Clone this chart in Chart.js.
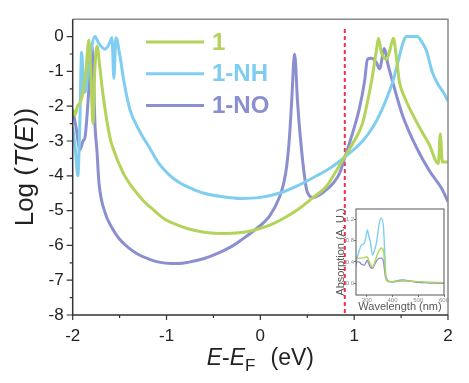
<!DOCTYPE html>
<html>
<head>
<meta charset="utf-8">
<script src="https://cdn.jsdelivr.net/npm/chart.js@4/dist/chart.umd.min.js"></script>
<style>
html, body { margin: 0; padding: 0; background: #fff; }
#wrap { position: relative; width: 469px; height: 383px; }
#main { position: absolute; left: 0; top: 0; }
#inset { position: absolute; left: 320px; top: 200px; }
</style>
</head>
<body>
<div id="wrap">
	<canvas id="main" width="469" height="383"></canvas>
	<canvas id="inset" width="130" height="116"></canvas>
</div>
<script>
// transmission, Log(T(E)) vs E-EF (eV)
var seriesNames = ["1", "1-NH", "1-NO"];

var e1 = [-2.0, -1.975, -1.95, -1.92, -1.89, -1.86, -1.827, -1.805, -1.784, -1.765, -1.741, -1.71, -1.678, -1.603, -1.571, -1.465,
	-1.36, -1.252, -1.13, -1.018, -0.88, -0.763, -0.6, -0.4, -0.2, -0.05, 0.1, 0.25, 0.4, 0.55, 0.705, 0.8, 0.897, 1.0, 1.088,
	1.14, 1.184, 1.237, 1.259, 1.29, 1.344, 1.38, 1.418, 1.45, 1.482, 1.53, 1.588, 1.694, 1.80, 1.897, 1.918, 1.94, 2.0];
var t1 = [-2.1, -2.25, -2.0, -1.9, -1.6, -1.0, -0.1, -1.2, -2.5, -1.0, -0.28, -0.9, -1.65, -2.9, -3.2, -3.9,
	-4.35, -4.7, -5.0, -5.25, -5.42, -5.53, -5.62, -5.66, -5.63, -5.55, -5.42, -5.22, -4.97, -4.65, -4.3, -3.9, -3.46, -3.0, -2.5,
	-1.9, -1.3, -0.4, -0.05, -0.45, -0.65, -0.4, -0.05, -0.6, -1.3, -1.7, -2.05, -2.6, -3.1, -3.65, -2.8, -3.6, -3.6];

var eNH = [-2.0, -1.97, -1.945, -1.925, -1.905, -1.885, -1.869, -1.826, -1.763, -1.72, -1.656, -1.61, -1.582, -1.561, -1.539,
	-1.50, -1.45, -1.39, -1.29, -1.18, -1.08, -0.96, -0.86, -0.72, -0.6, -0.4, -0.2, 0.0, 0.2, 0.4, 0.6, 0.75, 0.9, 1.09,
	1.2, 1.27, 1.35, 1.41, 1.46, 1.50, 1.53, 1.556, 1.673, 1.72, 1.77, 1.83, 1.9, 1.95, 2.0];
var tNH = [-2.6, -3.3, -4.0, -2.6, -0.45, -1.4, -1.6, -0.8, 0, -0.2, -0.36, -0.2, -0.03, -1.2, -0.03,
	-0.5, -1.35, -2.1, -2.7, -3.2, -3.65, -4.0, -4.2, -4.38, -4.5, -4.6, -4.65, -4.62, -4.5, -4.28, -4.0, -3.77, -3.46, -3.0,
	-2.6, -2.25, -1.75, -1.3, -0.8, -0.37, -0.1, 0, 0, -0.15, -0.4, -1.0, -1.4, -1.6, -1.85];

var eNO = [-2.0, -1.965, -1.922, -1.89, -1.869, -1.848, -1.82, -1.795, -1.773, -1.763, -1.741, -1.72, -1.656, -1.58, -1.507,
	-1.4, -1.295, -1.18, -1.082, -0.95, -0.87, -0.76, -0.657, -0.54, -0.433, -0.3, -0.19, -0.08, 0.04, 0.1, 0.206, 0.25, 0.28,
	0.31, 0.333, 0.365, 0.397, 0.42, 0.44, 0.47, 0.493, 0.525, 0.557, 0.631, 0.705, 0.78, 0.844, 0.897, 0.98, 1.057, 1.11,
	1.142, 1.184, 1.237, 1.27, 1.322, 1.36, 1.41, 1.514, 1.663, 1.80, 1.94, 2.0];
var tNO = [-2.1, -2.6, -3.25, -3.0, -2.9, -2.3, -1.2, -0.3, -1.6, -2.5, -3.3, -4.2, -5.05, -5.5, -5.8,
	-6.08, -6.27, -6.4, -6.48, -6.52, -6.52, -6.48, -6.42, -6.32, -6.2, -6.02, -5.82, -5.6, -5.33, -5.15, -4.6, -4.2, -3.74,
	-2.9, -1.9, -0.5, -1.9, -2.7, -3.28, -4.0, -4.4, -4.58, -4.63, -4.55, -4.4, -4.2, -3.93, -3.5, -2.8, -2.05, -1.3,
	-0.65, -0.62, -0.75, -0.93, -0.34, -0.8, -1.3, -2.25, -3.18, -3.85, -4.4, -4.75];

// red dashed marker
var markE = [0.9, 0.9];
var markT = [0.22, -8];

// inset: absorption vs wavelength (nm)
var wave = [256, 262, 270, 278, 290, 296, 302, 308, 314, 322, 330, 338, 349, 357, 365, 370, 373, 377, 381, 390, 397, 420, 440, 469, 500, 540, 600];
var absNH = [0.3, 0.47, 0.6, 0.71, 0.75, 0.85, 1.0, 0.88, 0.77, 0.53, 0.62, 0.77, 1.13, 1.22, 1.03, 0.55, 0.2, 0.1, 0.06, 0.03, 0.02, 0.03, 0.04, 0.04, 0.02, 0.01, 0.0];
var abs1 = [0.49, 0.48, 0.47, 0.47, 0.48, 0.49, 0.49, 0.42, 0.36, 0.3, 0.38, 0.5, 0.62, 0.66, 0.6, 0.35, 0.15, 0.08, 0.04, 0.03, 0.03, 0.04, 0.05, 0.04, 0.03, 0.02, 0.01];
var absNO = [0.34, 0.4, 0.4, 0.36, 0.34, 0.38, 0.43, 0.36, 0.3, 0.28, 0.35, 0.42, 0.47, 0.47, 0.4, 0.2, 0.11, 0.06, 0.04, 0.03, 0.03, 0.05, 0.06, 0.04, 0.02, 0.01, 0.0];

var green = "#b3d35a", blue = "#7fcdf0", purple = "#8b8fd0", red = "#ef2f4f";
var fam = '"Liberation Sans", Arial, sans-serif';
Chart.defaults.font.family = fam;

function pts(xs, ys) {
	return xs.map(function(v, i) { return { x: v, y: ys[i] }; });
}

function curve(label, xs, ys, color, width) {
	return {
		label: label, data: pts(xs, ys), borderColor: color, borderWidth: width,
		pointRadius: 0, fill: false, cubicInterpolationMode: "monotone"
	};
}

function isStep(v, step) {
	var k = v / step;
	return Math.abs(k - Math.round(k)) < 1e-6;
}

// draws text made of pieces with different fonts, centred on 0
function richText(ctx, parts, size) {
	var total = 0;
	parts.forEach(function(p) {
		ctx.font = (p.style || "") + (p.size || size) + "px " + fam;
		p.w = ctx.measureText(p.t).width;
		total += p.w + (p.gap || 0);
	});
	var x = -total / 2;
	parts.forEach(function(p) {
		x += p.gap || 0;
		ctx.font = (p.style || "") + (p.size || size) + "px " + fam;
		ctx.fillText(p.t, x, p.dy || 0);
		x += p.w;
	});
}

var mainDeco = {
	id: "mainDeco",
	afterDraw: function(chart) {
		var ctx = chart.ctx, a = chart.chartArea, xs = chart.scales.x, ys = chart.scales.y;
		ctx.save();
		ctx.lineWidth = 1.5;
		ctx.strokeStyle = "#8a8a8a";
		ctx.beginPath();
		ctx.moveTo(a.left, a.top); ctx.lineTo(a.right, a.top); ctx.lineTo(a.right, a.bottom);
		ctx.stroke();
		ctx.strokeStyle = "#333";
		ctx.beginPath();
		ctx.moveTo(a.left, a.top); ctx.lineTo(a.left, a.bottom); ctx.lineTo(a.right, a.bottom);
		ctx.stroke();

		ctx.lineWidth = 1.2;
		ctx.beginPath();
		for (var v = -8; v <= 0; v += 0.5) {
			var py = ys.getPixelForValue(v), len = v % 1 === 0 ? 6 : 3;
			ctx.moveTo(a.left - len, py); ctx.lineTo(a.left, py);
		}
		for (var u = -2; u <= 2; u += 0.5) {
			var px = xs.getPixelForValue(u), l2 = u % 1 === 0 ? 5 : 3;
			ctx.moveTo(px, a.bottom); ctx.lineTo(px, a.bottom + l2);
		}
		ctx.stroke();

		// legend
		chart.data.datasets.slice(0, 3).forEach(function(ds, i) {
			var y = 42 + i * 31.7;
			ctx.strokeStyle = ds.borderColor;
			ctx.lineWidth = 3;
			ctx.beginPath(); ctx.moveTo(146, y); ctx.lineTo(204, y); ctx.stroke();
			ctx.fillStyle = ds.borderColor;
			ctx.font = "bold 24px " + fam;
			ctx.textBaseline = "middle";
			ctx.textAlign = "left";
			ctx.fillText(ds.label, 212, y + 1);
		});

		// axis titles
		ctx.fillStyle = "#222";
		ctx.textAlign = "left";
		ctx.textBaseline = "alphabetic";
		ctx.save();
		ctx.translate(33, (a.top + a.bottom) / 2);
		ctx.rotate(-Math.PI / 2);
		richText(ctx, [{ t: "Log (" }, { t: "T", style: "italic " }, { t: "(" }, { t: "E", style: "italic " }, { t: "))" }], 26);
		ctx.restore();
		ctx.save();
		ctx.translate((a.left + a.right) / 2, 365);
		richText(ctx, [{ t: "E", style: "italic " }, { t: "-" }, { t: "E", style: "italic " },
			{ t: "F", size: 17, dy: 6 }, { t: "(eV)", gap: 15 }], 23);
		ctx.restore();
		ctx.restore();
	}
};

var mainChart = new Chart(document.getElementById("main"), {
	type: "line",
	data: {
		datasets: [
			curve(seriesNames[0], e1, t1, green, 3),
			curve(seriesNames[1], eNH, tNH, blue, 3),
			curve(seriesNames[2], eNO, tNO, purple, 3),
			{ label: "EF", data: pts(markE, markT), borderColor: red, borderWidth: 2, borderDash: [4, 3], pointRadius: 0, tension: 0 }
		]
	},
	options: {
		responsive: false,
		animation: false,
		layout: { padding: { top: 12, right: 21, left: 0, bottom: 0 } },
		plugins: { legend: { display: false }, tooltip: { enabled: false } },
		scales: {
			x: {
				type: "linear", min: -2, max: 2,
				grid: { display: false, drawTicks: false },
				border: { display: false },
				ticks: { stepSize: 1, includeBounds: false, padding: 11, maxRotation: 0, color: "#222", font: { size: 17 } },
				afterFit: function(s) { s.height = 68; }
			},
			y: {
				type: "linear", min: -8, max: 0.5,
				grid: { display: false, drawTicks: false },
				border: { display: false },
				ticks: { stepSize: 1, includeBounds: false, padding: 9, color: "#222", font: { size: 17 } },
				afterBuildTicks: function(s) { s.ticks = s.ticks.filter(function(t) { return isStep(t.value, 1); }); },
				afterFit: function(s) { s.width = 72.7; }
			}
		}
	},
	plugins: [mainDeco]
});

var insetBox = {
	id: "insetBox",
	afterDraw: function(chart) {
		var ctx = chart.ctx, a = chart.chartArea;
		ctx.save();
		ctx.strokeStyle = "#555";
		ctx.lineWidth = 1;
		ctx.strokeRect(a.left, a.top, a.right - a.left, a.bottom - a.top);
		ctx.restore();
	}
};

var insetChart = new Chart(document.getElementById("inset"), {
	type: "line",
	data: {
		datasets: [
			curve(seriesNames[0], wave, abs1, green, 1.4),
			curve(seriesNames[2], wave, absNO, purple, 1.4),
			curve(seriesNames[1], wave, absNH, blue, 1.4)
		]
	},
	options: {
		responsive: false,
		animation: false,
		layout: { padding: { top: 9, right: 6, left: 0, bottom: 0 } },
		plugins: { legend: { display: false }, tooltip: { enabled: false } },
		scales: {
			x: {
				type: "linear", min: 258, max: 600,
				grid: { drawOnChartArea: false, tickLength: 2, color: "#777" },
				border: { display: false },
				ticks: { stepSize: 100, includeBounds: false, padding: 0, maxRotation: 0, color: "#888", font: { size: 6 } },
				title: { display: true, text: "Wavelength (nm)", color: "#555", font: { size: 11 }, padding: { top: 0, bottom: 2 } },
				afterBuildTicks: function(s) { s.ticks = s.ticks.filter(function(t) { return isStep(t.value, 100); }); },
				afterFit: function(s) { s.height = 21; }
			},
			y: {
				type: "linear", min: -0.22, max: 1.39,
				grid: { drawOnChartArea: false, tickLength: 2, color: "#777" },
				border: { display: false },
				ticks: { stepSize: 0.4, includeBounds: false, padding: 0, color: "#888", font: { size: 6 },
					callback: function(v) { return v.toFixed(1); } },
				title: { display: true, text: "Absorption (A. U.)", color: "#555", font: { size: 11 }, padding: { top: 14, bottom: 0 } },
				afterBuildTicks: function(s) {
					s.ticks = s.ticks.filter(function(t) { return t.value > -0.01 && t.value < 1.25 && isStep(t.value, 0.4); });
				},
				afterFit: function(s) { s.width = 36; }
			}
		}
	},
	plugins: [insetBox]
});
</script>
</body>
</html>
